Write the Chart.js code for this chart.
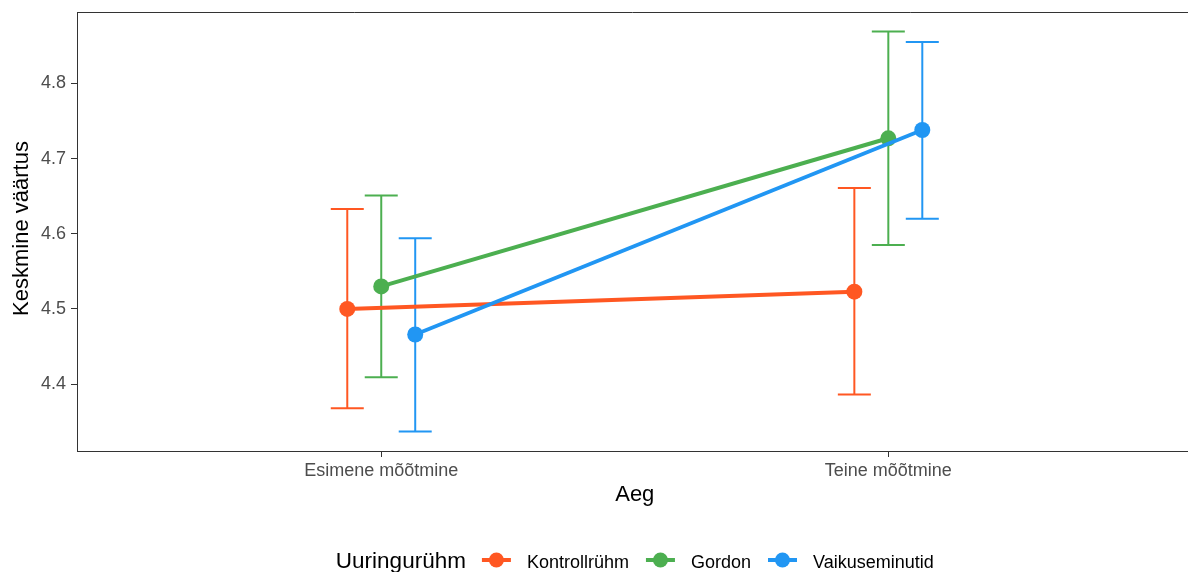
<!DOCTYPE html>
<html>
<head>
<meta charset="utf-8">
<script src="https://cdn.jsdelivr.net/npm/chart.js@4/dist/chart.umd.min.js"></script>
<style>
  html, body { margin: 0; padding: 0; background: #ffffff; overflow: hidden; }
  #wrap { position: relative; width: 1188px; height: 572px; }
</style>
</head>
<body>
<div id="wrap"><canvas id="c" width="1188" height="572"></canvas></div>
<script>
// ---- data ----
const categories = ['Esimene mõõtmine', 'Teine mõõtmine'];
const groups = ['Kontrollrühm', 'Gordon', 'Vaikuseminutid'];
const kontrollMean = [4.500, 4.523];
const kontrollLow  = [4.368, 4.386];
const kontrollHigh = [4.633, 4.661];
const gordonMean = [4.530, 4.727];
const gordonLow  = [4.409, 4.585];
const gordonHigh = [4.651, 4.869];
const vaikMean = [4.466, 4.738];
const vaikLow  = [4.337, 4.620];
const vaikHigh = [4.594, 4.855];
const yTicks = [4.4, 4.5, 4.6, 4.7, 4.8];
const xTitle = 'Aeg';
const yTitle = 'Keskmine väärtus';
const legendTitle = 'Uuringurühm';

// ---- style ----
const colors = ['#FF5722', '#4CAF50', '#2196F3'];
const dodge = [-0.067, 0, 0.067];
const FONT = '"Liberation Sans", Arial, Helvetica, sans-serif';

const means = [kontrollMean, gordonMean, vaikMean];
const lows = [kontrollLow, gordonLow, vaikLow];
const highs = [kontrollHigh, gordonHigh, vaikHigh];

const datasets = [];
// error bars (behind)
groups.forEach((g, gi) => {
  categories.forEach((c, ci) => {
    datasets.push({
      label: '_err',
      data: [{x: ci + 1 + dodge[gi], y: lows[gi][ci]}, {x: ci + 1 + dodge[gi], y: highs[gi][ci]}],
      showLine: true,
      borderColor: colors[gi],
      borderWidth: 2,
      pointStyle: 'line',
      pointRadius: 16.5,
      pointHoverRadius: 16.5,
      pointBorderColor: colors[gi],
      pointBorderWidth: 2,
      pointBackgroundColor: colors[gi],
      clip: false,
      order: 10
    });
  });
});
// mean lines + points
groups.forEach((g, gi) => {
  datasets.push({
    label: g,
    data: categories.map((c, ci) => ({x: ci + 1 + dodge[gi], y: means[gi][ci]})),
    showLine: true,
    borderColor: colors[gi],
    backgroundColor: colors[gi],
    borderWidth: 4,
    pointRadius: 8,
    pointHoverRadius: 8,
    pointBorderWidth: 0,
    pointBackgroundColor: colors[gi],
    clip: false,
    order: 3 - gi
  });
});

function zeroPad(s) { s.paddingLeft = 0; s.paddingRight = 0; s.paddingTop = 0; s.paddingBottom = 0; }

const decor = {
  id: 'decor',
  afterDraw(chart) {
    const ctx = chart.ctx;
    const a = chart.chartArea;
    const xs = chart.scales.x;
    ctx.save();
    // top border of panel
    ctx.strokeStyle = '#333333';
    ctx.lineWidth = 1;
    ctx.beginPath();
    ctx.moveTo(a.left, a.top + 0.5);
    ctx.lineTo(a.right, a.top + 0.5);
    ctx.stroke();

    const panelCenter = xs.getPixelForValue(1.5);
    // x title
    ctx.fillStyle = '#000000';
    ctx.font = '22px ' + FONT;
    ctx.textAlign = 'center';
    ctx.textBaseline = 'alphabetic';
    ctx.fillText(xTitle, panelCenter, 501);
    // y title
    ctx.save();
    ctx.translate(28, (a.top + a.bottom) / 2 - 3);
    ctx.rotate(-Math.PI / 2);
    ctx.fillText(yTitle, 0, 0);
    ctx.restore();

    // legend
    const titleFont = '22.5px ' + FONT;
    const labFont = '18px ' + FONT;
    ctx.font = titleFont;
    const tw = ctx.measureText(legendTitle).width;
    ctx.font = labFont;
    const lw = groups.map(g => ctx.measureText(g).width);
    const gapTitle = 16, symW = 29, symGap = 16, itemGap = 17;
    let total = tw + gapTitle;
    lw.forEach((w, i) => { total += symW + symGap + w + (i < lw.length - 1 ? itemGap : 0); });
    let x = panelCenter - total / 2;
    const base = 567.5, cy = 560;
    ctx.textAlign = 'left';
    ctx.font = titleFont;
    ctx.fillStyle = '#000000';
    ctx.fillText(legendTitle, x, base);
    x += tw + gapTitle;
    groups.forEach((g, i) => {
      ctx.strokeStyle = colors[i];
      ctx.fillStyle = colors[i];
      ctx.lineWidth = 4;
      ctx.beginPath();
      ctx.moveTo(x, cy);
      ctx.lineTo(x + symW, cy);
      ctx.stroke();
      ctx.beginPath();
      ctx.arc(x + symW / 2, cy, 7.5, 0, Math.PI * 2);
      ctx.fill();
      x += symW + symGap;
      ctx.fillStyle = '#000000';
      ctx.font = labFont;
      ctx.fillText(g, x, base);
      x += lw[i] + itemGap;
    });
    ctx.restore();
  }
};

new Chart(document.getElementById('c'), {
  type: 'scatter',
  data: { datasets },
  plugins: [decor],
  options: {
    responsive: false,
    animation: false,
    events: [],
    layout: { autoPadding: false, padding: { left: 0, right: 0, top: 12, bottom: 0 } },
    plugins: { legend: { display: false }, tooltip: { enabled: false } },
    scales: {
      x: {
        type: 'linear',
        min: 0.4,
        max: 2.591,
        afterBuildTicks: (s) => { s.ticks = categories.map((c, i) => ({ value: i + 1 })); },
        afterFit: (s) => { s.height = 121; zeroPad(s); },
        grid: { drawOnChartArea: false, drawTicks: true, tickLength: 6, tickColor: '#333333', tickWidth: 1 },
        border: { display: true, color: '#333333', width: 1 },
        ticks: {
          autoSkip: false, maxRotation: 0, padding: 3,
          color: '#4D4D4D', font: { family: FONT, size: 18 },
          callback: (v) => categories[Math.round(v) - 1]
        }
      },
      y: {
        type: 'linear',
        min: 4.311,
        max: 4.895,
        afterBuildTicks: (s) => { s.ticks = yTicks.map(v => ({ value: v })); },
        afterFit: (s) => { s.width = 77; zeroPad(s); },
        grid: { drawOnChartArea: false, drawTicks: true, tickLength: 6, tickColor: '#333333', tickWidth: 1 },
        border: { display: true, color: '#333333', width: 1 },
        ticks: {
          padding: 5,
          color: '#4D4D4D', font: { family: FONT, size: 18 },
          callback: (v) => Number(v).toFixed(1)
        }
      }
    }
  }
});
</script>
</body>
</html>
